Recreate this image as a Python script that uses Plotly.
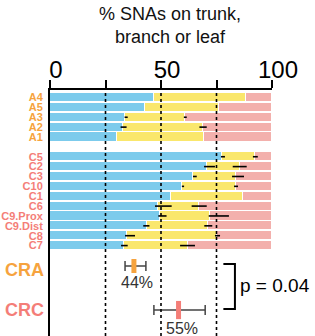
import plotly.graph_objects as go

# ---------------- data ----------------
samples = ["A4", "A5", "A3", "A2", "A1",
           "C5", "C2", "C3", "C10", "C1", "C6", "C9.Prox", "C9.Dist", "C8", "C7"]
groups = ["A", "A", "A", "A", "A",
          "C", "C", "C", "C", "C", "C", "C", "C", "C", "C"]
trunk = [47, 43, 34, 33, 30, 77.3, 70.6, 64.6, 59.6, 54.4, 48.5, 49.5, 43.5, 34.5, 33.2]
branch = [41.5, 33, 27, 36, 39.5, 15, 15, 19.2, 24.2, 32.4, 18.8, 22.5, 27.8, 40.5, 29.1]
leaf = [11.5, 24, 39, 31, 30.5, 7.7, 14.4, 16.2, 16.2, 13.2, 32.7, 28, 28.7, 25, 37.7]
# error ranges (low, high) at the trunk/branch and branch/leaf boundaries
trunk_err_lo = [None, None, 33.6, 31.8, None, 77.0, 69.4, 64.4, 59.4, None, 47.3, 48.8, 42.0, 33.8, 32.0]
trunk_err_hi = [None, None, 35.0, 34.5, None, 78.8, 74.3, 66.1, 60.4, None, 54.8, 52.5, 44.8, 38.3, 35.0]
branch_err_lo = [None, None, 60.3, 67.3, None, 91.4, 82.3, 82.0, 82.9, None, 63.8, 71.5, 69.5, 74.3, 58.6]
branch_err_hi = [None, None, 61.6, 70.6, None, 93.6, 88.6, 87.4, 84.7, None, 70.6, 80.6, 73.1, 76.6, 65.3]

summary_names = ["CRA", "CRC"]
summary_mean = [37.8, 57.9]
summary_lo = [33.8, 46.8]
summary_hi = [43.2, 69.9]
summary_labels = ["44%", "55%"]
p_text = "p = 0.04"

x_ticks = [0, 25, 50, 75, 100]
x_tick_labels = ["0", "", "50", "", "100"]
guide_lines = [25, 50, 75]

# ---------------- styling ----------------
FONT = "Liberation Sans, Arial, Helvetica, sans-serif"
C_BLUE = "#7ccbec"
C_YELLOW = "#fae76c"
C_PINK = "#f3b0ac"
C_A = "#f6a33e"
C_C = "#f47e78"
group_color = {"A": C_A, "C": C_C}

# row positions: A rows, blank row, C rows
rows = []
r = 0
prev = None
for g in groups:
    if prev is not None and g != prev:
        r += 1
    rows.append(r)
    r += 1
    prev = g
summary_rows = [17.07, 21.53]

fig = go.Figure()
for vals, col, name in [(trunk, C_BLUE, "trunk"), (branch, C_YELLOW, "branch"), (leaf, C_PINK, "leaf")]:
    fig.add_trace(go.Bar(
        x=vals, y=rows, orientation="h", name=name,
        marker=dict(color=col, line=dict(color="white", width=1)),
        width=0.92, showlegend=False, hoverinfo="skip"))

# boundary error bars
trunk_end = trunk
branch_end = [t + b for t, b in zip(trunk, branch)]
for ends, lo, hi in [(trunk_end, trunk_err_lo, trunk_err_hi), (branch_end, branch_err_lo, branch_err_hi)]:
    xs, ys, plus, minus = [], [], [], []
    for e, l, h, yy in zip(ends, lo, hi, rows):
        if l is None:
            continue
        xs.append(e)
        ys.append(yy)
        plus.append(max(h - e, 0))
        minus.append(max(e - l, 0))
    fig.add_trace(go.Scatter(
        x=xs, y=ys, mode="markers", marker=dict(size=0.1, color="black", opacity=0),
        error_x=dict(type="data", symmetric=False, array=plus, arrayminus=minus,
                     color="black", thickness=1.6, width=0),
        showlegend=False, hoverinfo="skip"))

# summary points
summary_colors = [C_A, C_C]
for i in range(len(summary_names)):
    fig.add_trace(go.Scatter(
        x=[summary_mean[i]], y=[summary_rows[i]], mode="markers",
        marker=dict(symbol="line-ns", size=10 + 3 * i, line=dict(color=summary_colors[i], width=5)),
        error_x=dict(type="data", symmetric=False,
                     array=[summary_hi[i] - summary_mean[i]],
                     arrayminus=[summary_mean[i] - summary_lo[i]],
                     color="#444444", thickness=1.5, width=5),
        showlegend=False, hoverinfo="skip"))
    fig.add_annotation(x=summary_mean[i], y=summary_rows[i], text=summary_labels[i],
                       showarrow=False, xshift=3.5, yshift=-16 - 2 * i,
                       font=dict(family=FONT, size=16, color="#333333"))
    fig.add_annotation(x=0, xref="paper", y=summary_rows[i], text="<b>%s</b>" % summary_names[i],
                       showarrow=False, xanchor="right", xshift=-4, yshift=-4 if i == 0 else 0,
                       font=dict(family=FONT, size=18, color=summary_colors[i]))

# dashed guide lines
for g in guide_lines:
    fig.add_shape(type="line", x0=g, x1=g, y0=0, y1=1, xref="x", yref="paper",
                  line=dict(color="black", width=1.6, dash="3px,3px"), layer="above")

# bracket
fig.add_shape(type="path", xref="x", yref="y",
              path="M 78.1 16.87 L 83.3 16.87 L 83.3 21.43 L 78.1 21.43",
              line=dict(color="black", width=2))
fig.add_annotation(x=84.5, y=19.0, text=p_text, showarrow=False, xanchor="left",
                   font=dict(family=FONT, size=19, color="black"))

# title
fig.add_annotation(x=0.54, xref="paper", y=1, yref="paper", yanchor="bottom", yshift=41,
                   text="% SNAs on trunk,<br>branch or leaf", showarrow=False,
                   font=dict(family=FONT, size=18, color="#111111"))

ticktext = ['<b><span style="color:%s">%s</span></b>' % (group_color[g], s)
            for s, g in zip(samples, groups)]

fig.update_layout(
    width=315, height=336,
    margin=dict(l=50, r=43, t=90, b=0),
    paper_bgcolor="white", plot_bgcolor="white",
    barmode="stack", bargap=0,
    font=dict(family=FONT, color="black"),
    xaxis=dict(range=[0, 100], side="top", showgrid=False, zeroline=False,
               automargin=False,
               showline=True, linecolor="black", linewidth=2,
               ticks="outside", ticklen=8, tickwidth=2, tickcolor="black",
               tickvals=x_ticks, ticktext=x_tick_labels, ticklabelshift=6,
               ticklabelstandoff=-8,
               tickfont=dict(family=FONT, size=24, color="black")),
    yaxis=dict(range=[24.16, -0.76], showgrid=False, zeroline=False,
               automargin=False,
               showline=True, linecolor="black", linewidth=2,
               ticks="", tickvals=rows, ticktext=ticktext, ticklabelstandoff=3,
               tickfont=dict(family=FONT, size=11)),
)

fig.write_html("out.html", config={"displayModeBar": False},
               post_script="document.body.style.margin='0';")
